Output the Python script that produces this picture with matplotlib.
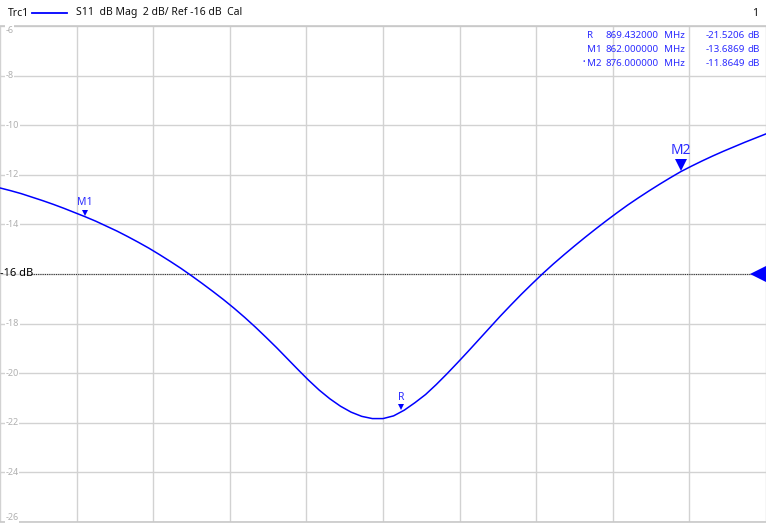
import numpy as np
import matplotlib
matplotlib.use("Agg")
import matplotlib.pyplot as plt
from matplotlib import transforms

# ---------------- data ----------------
freq_mhz = [860.0, 860.25, 860.5, 860.75, 861.0, 861.25, 861.5, 861.75, 862.0, 862.25,
            862.5, 862.75, 863.0, 863.25, 863.5, 863.75, 864.0, 864.25, 864.5, 864.75,
            865.0, 865.25, 865.5, 865.75, 866.0, 866.25, 866.5, 866.75, 867.0, 867.25,
            867.5, 867.75, 868.0, 868.25, 868.5, 868.75, 869.0, 869.25, 869.5, 869.75,
            870.0, 870.25, 870.5, 870.75, 871.0, 871.25, 871.5, 871.75, 872.0, 872.25,
            872.5, 872.75, 873.0, 873.25, 873.5, 873.75, 874.0, 874.25, 874.5, 874.75,
            875.0, 875.25, 875.5, 875.75, 876.0, 876.25, 876.5, 876.75, 877.0, 877.25,
            877.5, 877.75, 878.0]
s11_db = [-12.53, -12.64, -12.76, -12.90, -13.04, -13.19, -13.35, -13.52, -13.69, -13.87,
          -14.07, -14.27, -14.49, -14.72, -14.96, -15.22, -15.49, -15.77, -16.07, -16.38,
          -16.70, -17.03, -17.38, -17.75, -18.14, -18.55, -18.97, -19.41, -19.85, -20.28,
          -20.68, -21.03, -21.33, -21.57, -21.74, -21.83, -21.83, -21.72, -21.49, -21.19,
          -20.86, -20.46, -20.03, -19.58, -19.12, -18.65, -18.18, -17.71, -17.26, -16.82,
          -16.40, -15.99, -15.60, -15.23, -14.87, -14.52, -14.18, -13.85, -13.53, -13.22,
          -12.93, -12.65, -12.38, -12.12, -11.87, -11.65, -11.44, -11.24, -11.05, -10.87,
          -10.69, -10.52, -10.35]

marker_names = ["R", "M1", "M2"]
marker_freqs = [869.432, 862.0, 876.0]
marker_vals = [-21.5206, -13.6869, -11.8649]
marker_freq_text = ["869.432000", "862.000000", "876.000000"]
marker_val_text = ["-21.5206", "-13.6869", "-11.8649"]

y_ticks = [-26, -24, -22, -20, -18, -16, -14, -12, -10, -8, -6]
ref_level = -16
f_start, f_stop = 860.0, 878.0
n_div = 10

header_text = "S11  dB Mag  2 dB/ Ref -16 dB  Cal"

# ---------------- figure ----------------
plt.rcParams['font.family'] = ['Noto Sans', 'DejaVu Sans']
W, H = 766, 527
fig = plt.figure(figsize=(W / 100, H / 100), dpi=100)

top_px, bot_px = 26, 522
ax = fig.add_axes([0, 1 - bot_px / H, 1, (bot_px - top_px) / H])
ax.set_xlim(f_start, f_stop)
ax.set_ylim(y_ticks[0], y_ticks[-1])

ax.set_xticks(np.linspace(f_start, f_stop, n_div + 1))
ax.set_yticks(y_ticks)
ax.tick_params(length=0, labelbottom=False, labelleft=False)
ax.grid(True, color="#d2d2d2", linewidth=1.0)
for side in ["left", "right"]:
    ax.spines[side].set_visible(False)
for side in ["top", "bottom"]:
    ax.spines[side].set_color("#c8c8c8")
    ax.spines[side].set_linewidth(1.2)

blue = "#0000ff"
lblue = "#2c2cff"

# y labels inside the plot
ylab_tr = transforms.blended_transform_factory(ax.transAxes, ax.transData)
for v in y_ticks:
    if v == ref_level:
        continue
    va = "center"
    if v == y_ticks[-1]:
        va = "top"
    elif v == y_ticks[0]:
        va = "bottom"
    ax.text(0.007, v, str(v), transform=ylab_tr, ha="left", va=va,
            fontsize=6.5, color="#b0b0b0",
            bbox=dict(facecolor="white", edgecolor="none", pad=0.6))

# reference level line + label + arrow
ax.plot([f_start + 0.72, f_stop - 0.3], [ref_level, ref_level], color="#333333",
        linestyle=(0, (1, 1)), linewidth=0.8, zorder=3)
ax.text(0.0, ref_level, "-16 dB", transform=ylab_tr, ha="left", va="center",
        fontsize=8, color="black")
ax.plot([f_stop], [ref_level], marker="<", markersize=11, color=blue,
        markeredgewidth=0,
        transform=ax.transData + transforms.ScaledTranslation(-5.5 / 72, 0, fig.dpi_scale_trans),
        clip_on=False, zorder=4)

# trace
ax.plot(freq_mhz, s11_db, color=blue, linewidth=1.1, zorder=5)

# markers on trace
for name, f, v in zip(marker_names, marker_freqs, marker_vals):
    big = name == "M2"
    ms = 9 if big else 5
    h_pts = ms * 0.5
    off = transforms.offset_copy(ax.transData, fig=fig, x=0, y=h_pts, units="points")
    ax.plot([f], [v], marker="v", markersize=ms, color=blue, markeredgewidth=0,
            transform=off, zorder=6)
    ax.annotate(name, (f, v), xytext=(0, ms * 1.0 + 1), textcoords="offset points",
                ha="center", va="bottom", fontsize=10 if big else 7.5, color=lblue, zorder=6)

# header
def fx(px):
    return px / W

def fy(py):
    return 1 - py / H

fig.text(fx(8), fy(13), "Trc1", ha="left", va="center", fontsize=7.5, color="#111111")
fig.add_artist(plt.Line2D([fx(32), fx(67)], [fy(13), fy(13)], color=blue, linewidth=1.3))
fig.text(fx(76), fy(13), header_text, ha="left", va="center", fontsize=7.5, color="#111111")
fig.text(fx(755), fy(13), "1", ha="center", va="center", fontsize=7.5, color="#111111")

# marker table
rows_y = [35, 49, 63]
tfs = 7.0
for i, name in enumerate(marker_names):
    y = fy(rows_y[i])
    if name == "M2":
        fig.text(fx(585), y, "•", ha="right", va="center", fontsize=5, color=lblue)
    fig.text(fx(587), y, name, ha="left", va="center", fontsize=tfs, color=lblue)
    fig.text(fx(659), y, marker_freq_text[i], ha="right", va="center", fontsize=tfs, color=lblue)
    fig.text(fx(664), y, "MHz", ha="left", va="center", fontsize=tfs, color=lblue)
    fig.text(fx(745), y, marker_val_text[i], ha="right", va="center", fontsize=tfs, color=lblue)
    fig.text(fx(748), y, "dB", ha="left", va="center", fontsize=tfs, color=lblue)

fig.savefig("out.png", dpi=100)
